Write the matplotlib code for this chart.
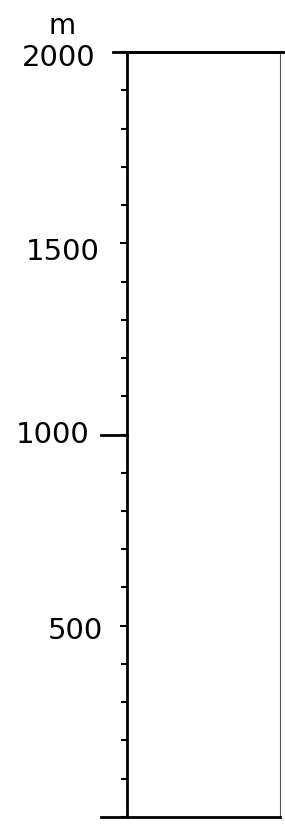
import matplotlib
matplotlib.use("Agg")
import matplotlib.pyplot as plt
import matplotlib.transforms as mtransforms

major_ticks = [500, 1000, 1500, 2000]
major_labels = ["500", "1000", "1500", "2000"]
minor_ticks = list(range(0, 2001, 100))
unit_label = "m"
ymin, ymax = 0, 2000

fig = plt.figure(figsize=(2.85, 8.3), dpi=100)
ax = fig.add_axes([0.4456, 0.0157, 0.537, 0.9216])
ax.set_ylim(ymin, ymax)
ax.set_xlim(0, 1)
ax.set_xticks([])

for s in ["left", "top", "bottom"]:
    ax.spines[s].set_linewidth(2)
    ax.spines[s].set_color("black")
ax.spines["right"].set_linewidth(0.8)
ax.spines["right"].set_color("#555555")

ax.set_yticks(major_ticks)
ax.set_yticklabels([])
ax.set_yticks(minor_ticks, minor=True)
ax.tick_params(axis="y", which="minor", length=4, width=1.5, direction="out")
ax.tick_params(axis="y", which="major", length=5, width=1.5, direction="out")
# long tick at 1000
ax.plot([-0.17, 0], [1000, 1000], color="black", lw=2, clip_on=False)
# extended top and bottom lines
ax.plot([-0.09, 1.05], [ymax, ymax], color="black", lw=2, clip_on=False)
ax.plot([-0.17, 0], [ymin, ymin], color="black", lw=2, clip_on=False)

trans = mtransforms.blended_transform_factory(ax.transAxes, ax.transData)
label_x = [-0.157, -0.242, -0.176, -0.209]
label_dy = [-13, 0, -24, -16]
for v, lab, lx, dy in zip(major_ticks, major_labels, label_x, label_dy):
    ax.text(lx, v + dy, lab, transform=trans, ha="right", va="center",
            fontsize=21, color="black")

ax.text(-0.425, ymax + 68, unit_label, transform=trans, ha="center", va="center",
        fontsize=20, color="black")

fig.savefig("out.png", dpi=100)
